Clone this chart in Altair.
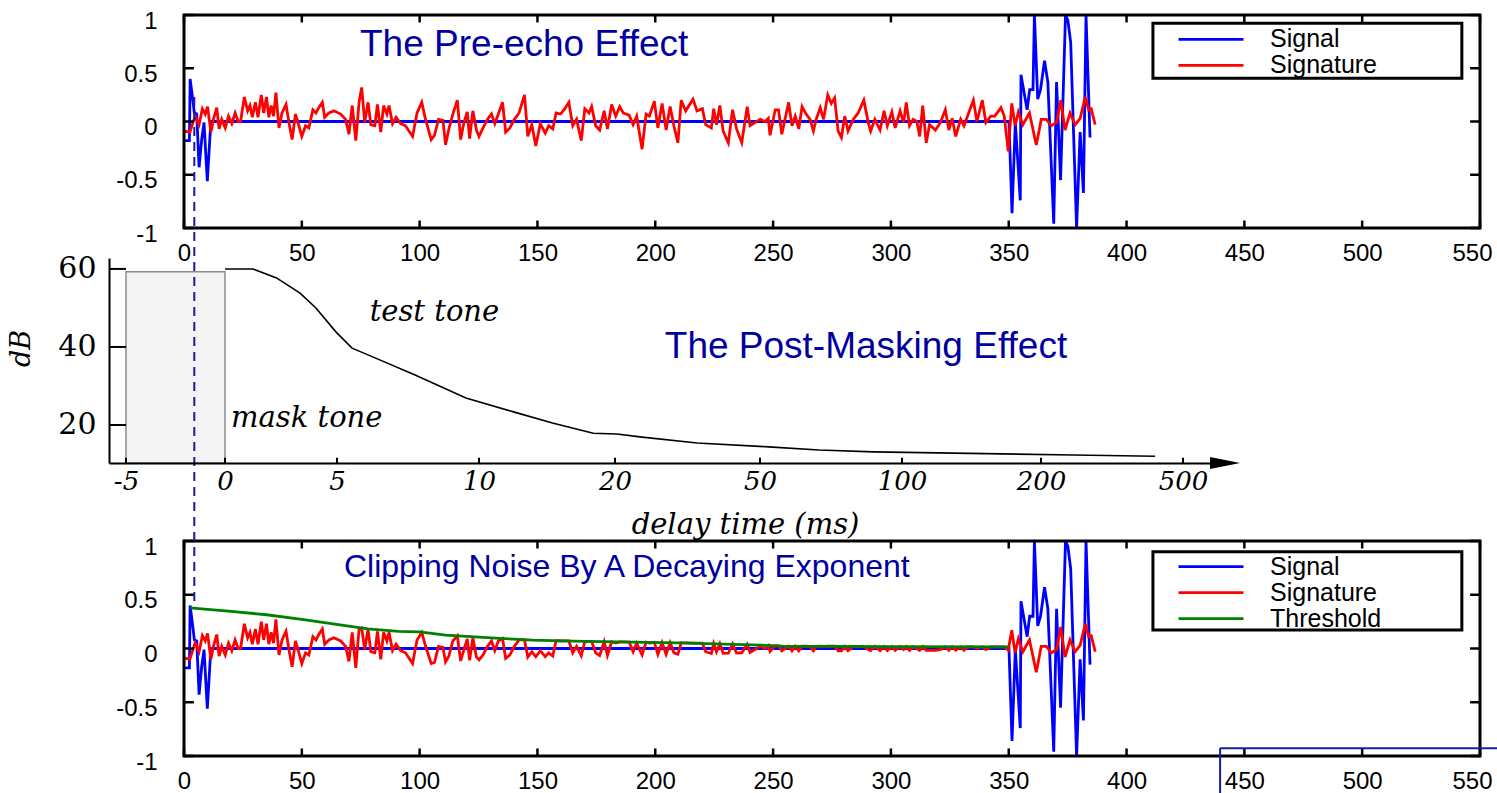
import altair as alt
import pandas as pd

W, H = 1497, 793
NAVY = "#0000A0"
DASH_NAVY = "#1c1c9c"
SANS = "Liberation Sans"
SERIF = "DejaVu Serif"

# ---------------- data ----------------
SERIES = ["Signal", "Signature", "Threshold"]
COLORS = ["#0000FF", "#FF0000", "#008000"]

SIGNAL_X = [0, 2.3, 2.6, 3.7, 4.4, 5.4, 6.4, 7.5, 8.5, 9.9, 11.4,
            350.1, 351.4, 352.8, 354.9, 355.2, 357.8, 358.9, 360.3, 360.9,
            362.3, 363.5, 365.2, 366.6, 369.1, 370.3, 372.0, 374.1, 375.1,
            376.3, 378.8, 380.3, 381.7, 382.8, 384.5]
SIGNAL_Y = [-0.18, -0.18, 0.40, 0.21, 0.08, 0.07, -0.43, -0.17, -0.01, -0.56, 0.0,
            0.0, -0.86, -0.01, -0.74, 0.44, 0.11, 0.30, 0.30, 1.0,
            0.21, 0.30, 0.57, 0.37, -0.96, 0.37, -0.55, 1.0, 0.95,
            0.74, -1.0, -0.10, -0.67, 1.0, -0.15]

RED_X = [
    0, 2.5, 4.7, 6.4, 7.8, 9, 10, 11.4, 12.5, 13.9,
    14.9, 16, 17.5, 18.9, 20.3, 21.7, 23, 24, 25.6, 27,
    28, 29, 30.3, 31.4, 32.8, 33.8, 35, 36, 37, 38,
    39, 40.3, 41.6, 43.3, 44.7, 45.9, 47.3, 48.4, 50, 51.6,
    53, 54.7, 56, 57.2, 58.7, 59.7, 61.5, 63.6, 66.5, 68.6,
    70, 71.4, 72.9, 74.3, 75.4, 76.7, 78.1, 79.3, 81, 82.1,
    83.5, 84.7, 86.1, 87, 88.5, 90, 92, 94, 97, 98.9,
    100.9, 102.4, 104.9, 106.3, 108, 109.9, 111, 112.4, 114.1, 116,
    117.4, 118.8, 120.2, 121.2, 122.6, 124.1, 125.2, 126.9, 128.8, 130.5,
    131.9, 133.4, 135.2, 136.5, 138.3, 140.2, 142.2, 144.5, 145.9, 147.6,
    149.3, 151.2, 153.3, 154.8, 156.5, 157.9, 159.8, 161.6, 163.3, 165,
    166.6, 168.6, 170.1, 171.9, 173, 174.7, 176.4, 178.3, 179.7, 181.5,
    183.2, 184.9, 186.4, 188.9, 190.6, 192.1, 194.4, 196.1, 197.5, 199.6,
    201.1, 202.9, 204.6, 206.3, 207.9, 209.6, 211, 212.9, 216, 217.7,
    220, 221.4, 223.8, 224.8, 226, 227.4, 228.8, 231, 232.8, 234.5,
    236.7, 239, 240.2, 242.3, 244.5, 246.6, 248, 248.7, 250.9, 252.3,
    253.7, 256.6, 258, 259.4, 260.9, 262.3, 264, 265.7, 267.1, 268.3,
    270, 271.4, 273.2, 274.7, 276.1, 277.6, 279, 280.4, 281.8, 284,
    286.1, 288.5, 290.4, 291.4, 293.2, 295.4, 297.1, 298.5, 300.4, 301.8,
    303.9, 305.4, 306.5, 307.9, 309.4, 311, 312.2, 313.5, 315, 316.4,
    318.9, 321, 323.1, 324.6, 326, 327.5, 329.6, 331, 332.5, 335,
    336.5, 338.8, 340.3, 342.4, 344.1, 346.7, 348.1, 349.8, 351.3, 352.7,
    354.1, 356, 358.8, 361.7, 363.8, 366, 368.1, 370.3, 372.1, 373.9,
    376, 378.2, 380.3, 382.5, 383.9, 385, 386.7,
]

RED_TOP = [
    -0.09, -0.10, 0.05, -0.03, 0.12, 0.07, 0.14, -0.10, 0.02, 0.13,
    -0.07, 0.02, -0.06, 0.05, -0.02, 0.08, 0.00, 0.00, 0.23, 0.10,
    0.15, 0.04, 0.18, 0.04, 0.25, 0.08, 0.23, 0.04, 0.15, 0.05,
    0.27, -0.06, 0.08, 0.16, -0.03, -0.17, 0.07, -0.01, -0.14, -0.04,
    -0.06, 0.11, 0.08, 0.13, 0.18, 0.04, 0.08, 0.10, 0.07, 0.02,
    -0.12, 0.15, -0.18, 0.18, 0.32, -0.01, 0.18, -0.03, -0.04, 0.16,
    -0.10, 0.15, 0.07, 0.15, -0.02, 0.04, -0.02, -0.04, -0.14, 0.08,
    0.18, 0.03, -0.17, -0.13, 0.02, 0.01, -0.22, -0.07, 0.07, 0.20,
    -0.17, -0.01, 0.09, -0.16, 0.10, -0.08, -0.14, -0.06, 0.02, 0.07,
    -0.02, 0.07, 0.18, -0.10, -0.06, 0.02, 0.08, 0.25, -0.14, -0.03,
    -0.23, -0.02, -0.11, -0.04, -0.07, 0.08, 0.07, 0.12, 0.18, -0.04,
    0.02, -0.18, 0.12, 0.08, 0.14, -0.04, -0.08, 0.10, -0.07, 0.16,
    0.05, 0.14, 0.08, 0.06, -0.03, 0.05, -0.26, 0.07, 0.05, 0.19,
    -0.06, 0.17, -0.08, 0.14, -0.04, -0.20, 0.20, 0.10, 0.21, 0.10,
    0.12, -0.03, -0.06, 0.12, -0.03, 0.15, -0.09, -0.20, 0.11, -0.07,
    -0.20, 0.14, -0.04, -0.01, 0.02, 0.00, 0.03, -0.13, 0.11, 0.11,
    -0.12, 0.18, -0.04, 0.05, -0.07, 0.14, 0.07, 0.02, -0.09, 0.02,
    0.13, 0.02, 0.25, 0.17, 0.22, -0.09, -0.15, 0.05, -0.09, 0.02,
    0.08, 0.20, -0.01, -0.09, 0.02, -0.08, 0.10, -0.04, 0.09, -0.06,
    0.10, -0.01, 0.18, -0.04, 0.02, 0.00, -0.14, 0.15, -0.20, -0.03,
    -0.08, -0.01, 0.11, -0.08, 0.03, -0.14, 0.02, -0.04, 0.05, 0.20,
    0.00, 0.20, -0.01, 0.05, 0.05, 0.13, 0.05, -0.28, 0.17, -0.04,
    0.09, -0.03, 0.08, -0.22, 0.02, 0.02, -0.04, -0.01, 0.20, -0.08,
    0.08, -0.03, 0.03, 0.23, 0.11, 0.12, -0.03,
]

RED_BOTTOM = [
    -0.09, -0.10, 0.05, -0.03, 0.12, 0.07, 0.14, -0.10, 0.02, 0.13,
    -0.07, 0.02, -0.06, 0.05, -0.02, 0.08, 0.00, 0.00, 0.23, 0.10,
    0.15, 0.04, 0.18, 0.04, 0.25, 0.08, 0.23, 0.04, 0.15, 0.05,
    0.27, -0.06, 0.08, 0.16, -0.03, -0.17, 0.07, -0.01, -0.14, -0.04,
    -0.06, 0.11, 0.08, 0.13, 0.18, 0.04, 0.08, 0.10, 0.07, 0.02,
    -0.12, 0.15, -0.18, 0.18, 0.19, -0.01, 0.18, -0.03, -0.04, 0.16,
    -0.10, 0.15, 0.07, 0.15, -0.02, 0.04, -0.02, -0.04, -0.14, 0.08,
    0.15, 0.03, -0.14, -0.13, 0.02, 0.01, -0.125, -0.07, 0.07, 0.118,
    -0.116, -0.01, 0.09, -0.11, 0.10, -0.08, -0.105, -0.06, 0.02, 0.07,
    -0.02, 0.07, 0.093, -0.092, -0.06, 0.02, 0.08, 0.082, -0.08, -0.03,
    -0.077, -0.02, -0.075, -0.04, -0.07, 0.073, 0.07, 0.071, 0.07, -0.04,
    0.02, -0.068, 0.067, 0.067, 0.066, -0.04, -0.065, 0.064, -0.064, 0.063,
    0.05, 0.062, 0.061, 0.06, -0.03, 0.05, -0.059, 0.058, 0.05, 0.057,
    -0.056, 0.056, -0.055, 0.055, -0.04, -0.053, 0.053, 0.052, 0.05, 0.05,
    0.049, -0.03, -0.047, 0.046, -0.03, 0.045, -0.045, -0.044, 0.043, -0.042,
    -0.04, 0.038, -0.037, -0.01, 0.02, 0.00, 0.028, -0.027, 0.025, 0.024,
    -0.022, 0.022, -0.022, 0.022, -0.022, 0.021, 0.021, 0.02, -0.021, 0.02,
    0.021, 0.02, 0.021, 0.021, 0.021, -0.021, -0.021, 0.02, -0.02, 0.02,
    0.02, 0.02, -0.01, -0.02, 0.019, -0.019, 0.018, -0.018, 0.018, -0.018,
    0.018, -0.01, 0.018, -0.018, 0.017, 0.00, -0.017, 0.017, -0.017, -0.017,
    -0.017, -0.01, 0.017, -0.017, 0.016, -0.016, 0.016, -0.016, 0.016, 0.016,
    0.00, 0.016, -0.01, 0.015, 0.015, 0.015, 0.015, -0.015, 0.17, -0.04,
    0.09, -0.03, 0.08, -0.22, 0.02, 0.02, -0.04, -0.01, 0.20, -0.08,
    0.08, -0.03, 0.03, 0.23, 0.11, 0.12, -0.03,
]

THRESH_X = [2.6, 20, 35, 50, 64, 78, 91, 100, 111, 134, 148, 165, 184, 210, 245, 254, 300, 350]
THRESH_Y = [0.377, 0.345, 0.314, 0.27, 0.226, 0.182, 0.16, 0.155, 0.125, 0.094, 0.078,
            0.069, 0.062, 0.053, 0.031, 0.022, 0.018, 0.015]

X_TICKS = [0, 50, 100, 150, 200, 250, 300, 350, 400, 450, 500, 550]
Y_TICKS = [-1, -0.5, 0, 0.5, 1]

# post-masking curve (delay in ms, level in dB)
MASK_MS = [0, 1.25, 2.3, 3.35, 4.06, 4.96, 5.53, 6.34, 7.75, 9.54, 12.6, 15.4, 18.4,
           20.4, 25.6, 37, 53, 70.8, 90, 137, 268, 441]
MASK_DB = [60, 60, 57.7, 53.8, 50, 43.8, 39.7, 37.2, 32.8, 26.9, 23.3, 20.5, 17.9,
           17.7, 16.9, 15.4, 14.4, 13.6, 13.1, 12.8, 12.3, 12.0]
MASK_TICKS = [-5, 0, 5, 10, 20, 50, 100, 200, 500]
DB_TICKS = [20, 40, 60]

TITLES = ["The Pre-echo Effect", "The Post-Masking Effect", "Clipping Noise By A Decaying Exponent"]

# ---------------- scales ----------------
SX = alt.Scale(domain=[0, 550], range=[184, 1480], nice=False, zero=False)
SY_TOP = alt.Scale(domain=[-1, 1], range=[228, 15], nice=False, zero=False)
SY_BOT = alt.Scale(domain=[-1, 1], range=[756, 541], nice=False, zero=False)
# the delay axis of the post-masking sketch is not uniform: piecewise scale
SX_MID = alt.Scale(type="linear",
                   domain=[-5.86, -5, 0, 5, 10, 20, 50, 100, 200, 500, 700],
                   range=[109, 126, 225, 337, 479, 615, 760, 902, 1041, 1183, 1225],
                   nice=False, zero=False)
SY_MID = alt.Scale(domain=[10.26, 62.8], range=[463, 258], nice=False, zero=False)

LAST_X = X_TICKS[-1]


def x_axis(bottom_px):
    return alt.Axis(orient="bottom", offset=-(H - bottom_px), values=X_TICKS, title=None,
                    grid=False, domain=False, ticks=False, tickSize=0, labelPadding=13,
                    labelFont=SANS, labelFontSize=24, labelColor="black",
                    labelFlush=False, labelOverlap=False, labelExpr="'' + datum.value",
                    labelOffset={"condition": {"test": f"datum.value == {LAST_X}", "value": -8},
                                 "value": 0})


def y_axis():
    return alt.Axis(orient="left", offset=-184, values=Y_TICKS, title=None,
                    grid=False, domain=False, ticks=False, tickSize=0, labelPadding=27,
                    labelOffset=6, labelFont=SANS, labelFontSize=24, labelColor="black",
                    labelFlush=False, labelOverlap=False, labelExpr="'' + datum.value")


def legend(y):
    return alt.Legend(title=None, orient="none", legendX=1153, legendY=y,
                      symbolType="stroke", symbolSize=4225, symbolStrokeWidth=2.8,
                      clipHeight=24, rowPadding=1, padding=4, symbolOffset=20,
                      labelOffset=25, labelFont=SANS, labelFontSize=25, labelColor="black")


def series_df(xs, ys, name):
    n = min(len(xs), len(ys))
    return pd.DataFrame({"x": xs[:n], "y": ys[:n], "series": [name] * n})


def ticks_df(lx, ly):
    rows = []
    for v in X_TICKS:
        rows.append(dict(a=v, a2=v, b=-1, b2=-1 + ly))
        rows.append(dict(a=v, a2=v, b=1, b2=1 - ly))
    for v in Y_TICKS:
        rows.append(dict(a=0, a2=lx, b=v, b2=v))
        rows.append(dict(a=550, a2=550 - lx, b=v, b2=v))
    return pd.DataFrame(rows)


def signal_panel(sy, bottom_px, red_vals, n_series, legend_y, legend_box, title, title_pos):
    xa, ya = x_axis(bottom_px), y_axis()
    cscale = alt.Scale(domain=SERIES[:n_series], range=COLORS[:n_series])
    leg = legend(legend_y)

    def X(f):
        return alt.X(f, scale=SX, axis=xa)

    def Y(f):
        return alt.Y(f, scale=sy, axis=ya)

    def lines(df):
        return alt.Chart(df).mark_line(strokeWidth=2.8).encode(
            x=X("x:Q"), y=Y("y:Q"),
            color=alt.Color("series:N", scale=cscale, legend=leg),
        )

    layers = [lines(series_df(SIGNAL_X, SIGNAL_Y, "Signal")),
              lines(series_df(RED_X, red_vals, "Signature"))]
    if n_series == 3:
        layers.append(lines(series_df(THRESH_X, THRESH_Y, "Threshold")))

    boxes = pd.DataFrame({"a": [0, legend_box[0]], "a2": [550, legend_box[1]],
                          "b": [-1, legend_box[2]], "b2": [1, legend_box[3]]})
    frame = alt.Chart(boxes).mark_rect(fillOpacity=0, stroke="black", strokeWidth=3).encode(
        x=X("a:Q"), x2="a2:Q", y=Y("b:Q"), y2="b2:Q")
    ticks = alt.Chart(ticks_df(4.2, 0.07)).mark_rule(color="black", strokeWidth=2.5).encode(
        x=X("a:Q"), x2="a2:Q", y=Y("b:Q"), y2="b2:Q")
    ttl = alt.Chart(pd.DataFrame({"x": [title_pos[0]], "y": [title_pos[1]], "t": [title]})).mark_text(
        align="left", baseline="middle", font=SANS, fontSize=title_pos[2], color=NAVY).encode(
        x=X("x:Q"), y=Y("y:Q"), text="t:N")
    return alt.layer(*layers, frame, ticks, ttl)


top_panel = signal_panel(SY_TOP, 228, RED_TOP, 2, 23.3, (411.2, 542.3, 0.406, 0.922),
                         TITLES[0], (74.7, 0.718, 37))
bot_panel = signal_panel(SY_BOT, 756, RED_BOTTOM, 3, 550.7, (411.2, 542.3, 0.172, 0.90),
                         TITLES[2], (67.9, 0.758, 32))

# ---------------- middle: post-masking sketch ----------------
mid_xa = alt.Axis(orient="bottom", offset=-(H - 463), values=MASK_TICKS, title="delay time (ms)",
                  grid=False, domain=True, domainColor="black", domainWidth=2, ticks=False,
                  tickSize=0, labelPadding=5, labelFont=SERIF, labelFontStyle="italic",
                  labelFontSize=26, labelColor="black", labelFlush=False, labelOverlap=False,
                  labelExpr="'' + datum.value", titleFont=SERIF, titleFontStyle="italic",
                  titleFontWeight="normal", titleFontSize=29, titleColor="black",
                  titleX=745, titleY=61, titleAlign="center", titleBaseline="middle", zindex=1)
mid_ya = alt.Axis(orient="left", offset=-109, values=DB_TICKS, title="dB",
                  grid=False, domain=True, domainColor="black", domainWidth=2, ticks=False,
                  tickSize=0, labelPadding=13, labelFont=SERIF, labelFontSize=30,
                  labelColor="black", labelOverlap=False, labelExpr="'' + datum.value",
                  titleFont=SERIF, titleFontStyle="italic", titleFontWeight="normal",
                  titleFontSize=27, titleColor="black", titleX=-88, titleY=348,
                  titleAngle=270, titleAlign="center", titleBaseline="middle", zindex=1)


def MX(f):
    return alt.X(f, scale=SX_MID, axis=mid_xa)


def MY(f):
    return alt.Y(f, scale=SY_MID, axis=mid_ya)


mask_df = pd.DataFrame({"ms": MASK_MS, "db": MASK_DB})
curve = alt.Chart(mask_df).mark_line(color="black", strokeWidth=1.6).encode(
    x=MX("ms:Q"), y=MY("db:Q"))

mask_rect = alt.Chart(pd.DataFrame({"a": [-5], "a2": [0], "b": [10.26], "b2": [59.3]})).mark_rect(
    fill="#f4f4f4", stroke="#8c8c8c", strokeWidth=1.5).encode(
    x=MX("a:Q"), x2="a2:Q", y=MY("b:Q"), y2="b2:Q")

mrows = [dict(a=v, a2=v, b=10.26, b2=11.6) for v in MASK_TICKS] + \
        [dict(a=-5.86, a2=-5, b=v, b2=v) for v in DB_TICKS]
mid_ticks = alt.Chart(pd.DataFrame(mrows)).mark_rule(color="black", strokeWidth=2).encode(
    x=MX("a:Q"), x2="a2:Q", y=MY("b:Q"), y2="b2:Q")

labels = alt.Chart(pd.DataFrame({"x": [6.15, 0.27], "y": [46.7, 19.5],
                                 "t": ["test tone", "mask tone"]})).mark_text(
    align="left", baseline="alphabetic", font=SERIF, fontStyle="italic", fontSize=29,
    color="black").encode(x=MX("x:Q"), y=MY("y:Q"), text="t:N")

mid_title = alt.Chart(pd.DataFrame({"x": [30.3], "y": [39.9], "t": [TITLES[1]]})).mark_text(
    align="left", baseline="middle", font=SANS, fontSize=37, color=NAVY).encode(
    x=MX("x:Q"), y=MY("y:Q"), text="t:N")

arrow = alt.Chart(pd.DataFrame({"x": [700], "y": [10.26]})).mark_point(
    shape="M-1,-0.4L1,0L-1,0.4Z", filled=True, size=900, color="black", opacity=1).encode(
    x=MX("x:Q"), y=MY("y:Q"))

mid_panel = alt.layer(mask_rect, curve, mid_ticks, labels, mid_title, arrow)

# ---------------- overlay annotations ----------------
dash = alt.Chart(pd.DataFrame({"x": [4.37]})).mark_rule(
    color=DASH_NAVY, strokeWidth=2, strokeDash=[9, 6]).encode(
    x=alt.X("x:Q", scale=SX, axis=None), y=alt.value(97), y2=alt.value(607))

corner = alt.Chart(pd.DataFrame({"a": [439.7, 439.7], "a2": [560, 439.7],
                                 "b": [-0.928, -0.928], "b2": [-0.928, -1.4]})).mark_rule(
    color=DASH_NAVY, strokeWidth=2).encode(
    x=alt.X("a:Q", scale=SX, axis=None), x2="a2:Q",
    y=alt.Y("b:Q", scale=SY_BOT, axis=None), y2="b2:Q")

chart = alt.layer(top_panel, mid_panel, bot_panel, dash, corner).resolve_scale(
    x="independent", y="independent", color="independent"
).properties(
    width=W, height=H, padding=0, background="white",
    autosize=alt.AutoSizeParams(type="none"),
).configure_view(strokeWidth=0)

chart.save("out.html", embed_options={"renderer": "svg", "actions": False})
